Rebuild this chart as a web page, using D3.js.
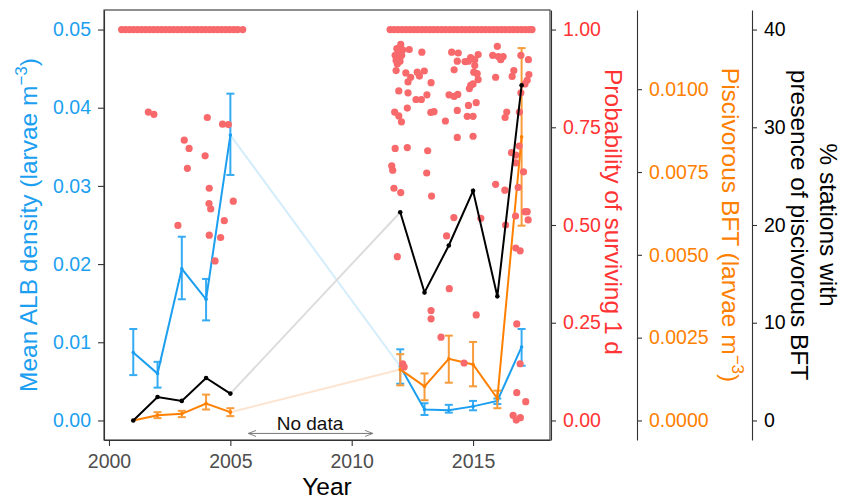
<!DOCTYPE html>
<html>
<head>
<meta charset="utf-8">
<script src="https://cdn.jsdelivr.net/npm/d3@7"></script>
<style>
  body { margin: 0; background: #fff; }
  text { font-family: "Liberation Sans", Arial, sans-serif; }
</style>
</head>
<body>
<script>
// survey years and the three yearly series
var years = [2001, 2002, 2003, 2004, 2005, 2012, 2013, 2014, 2015, 2016, 2017];

var albMean = [0.0087, 0.0060, 0.0194, 0.0155, 0.0365, 0.0069, 0.0014, 0.0013, 0.0018, 0.0025, 0.0094];
var albLow  = [0.0058, 0.0042, 0.0155, 0.0128, 0.0314, 0.0047, 0.0007, 0.0010, 0.0013, 0.0021, 0.0070];
var albHigh = [0.0117, 0.0075, 0.0235, 0.0181, 0.0418, 0.0091, 0.0022, 0.0020, 0.0025, 0.0028, 0.0117];

var bftMean = [0.0000, 0.00016, 0.00020, 0.00051, 0.00025, 0.00154, 0.00103, 0.00186, 0.00169, 0.00066, 0.00856];
var bftLow  = [0.0000, 0.00007, 0.00010, 0.00033, 0.00013, 0.00106, 0.00061, 0.00114, 0.00103, 0.00037, 0.00588];
var bftHigh = [0.0000, 0.00025, 0.00029, 0.00078, 0.00037, 0.00200, 0.00142, 0.00256, 0.00237, 0.00090, 0.01124];

var pctStations = [0, 2.4, 2.0, 4.35, 2.75, 21.3, 13.1, 17.9, 23.5, 12.7, 34.3];

// individual larvae: probability of surviving 1 d (jittered year)
var topRowYears = [2000.52, 2000.68, 2000.85, 2001.01, 2001.18, 2001.34, 2001.51, 2001.67, 2001.84, 2002.00,
    2002.17, 2002.33, 2002.50, 2002.66, 2002.83, 2002.99, 2003.16, 2003.32, 2003.49, 2003.65,
    2003.82, 2003.98, 2004.15, 2004.31, 2004.48, 2004.64, 2004.81, 2004.97, 2005.14, 2005.30, 2005.51,
    2011.58, 2011.74, 2011.90, 2012.07, 2012.23, 2012.40, 2012.56, 2012.72, 2012.89, 2013.05,
    2013.22, 2013.38, 2013.54, 2013.71, 2013.87, 2014.04, 2014.20, 2014.36, 2014.53, 2014.69,
    2014.86, 2015.02, 2015.18, 2015.35, 2015.51, 2015.68, 2015.84, 2016.00, 2016.17, 2016.33,
    2016.50, 2016.66, 2016.82, 2016.99, 2017.15, 2017.31, 2017.43];

var survYears = [2001.62, 2001.85, 2004.05, 2004.68, 2004.92, 2003.10, 2003.30, 2003.96, 2003.23, 2004.13,
    2005.12, 2004.12, 2004.19, 2004.75, 2002.84, 2004.13, 2004.60, 2004.37,
    2012.02, 2011.86, 2012.10, 2012.37, 2011.79, 2011.92, 2012.06, 2011.83, 2011.99, 2011.88,
    2011.83, 2012.89, 2014.12, 2014.39, 2014.35, 2014.67, 2014.81, 2014.22, 2012.23, 2012.43,
    2012.32, 2012.70, 2012.79, 2012.99, 2013.27, 2011.94, 2012.32, 2012.65, 2012.87, 2013.10,
    2014.01, 2014.22, 2014.37, 2014.85, 2011.77, 2011.94, 2012.05, 2012.29, 2013.26, 2013.39,
    2014.35, 2014.81, 2014.76, 2013.86, 2014.35,
    2016.00, 2014.90, 2015.21, 2015.07, 2015.81, 2016.04, 2016.24, 2016.14, 2016.97, 2017.28,
    2015.07, 2015.03, 2015.17, 2015.21, 2015.93, 2016.68, 2016.61, 2017.30, 2017.23, 2017.14,
    2014.90, 2015.00, 2015.13, 2015.00, 2016.39, 2016.32, 2016.91, 2016.97, 2015.00,
    2011.79, 2012.29, 2013.13, 2011.65, 2011.69, 2013.09, 2011.74, 2012.02, 2013.29, 2014.21,
    2013.91, 2011.88,
    2016.58, 2016.76, 2016.76, 2016.90, 2017.08, 2015.93, 2016.31, 2016.86, 2015.32, 2016.34,
    2016.75, 2017.14, 2017.23, 2017.27, 2016.76, 2016.94,
    2014.02, 2013.27, 2013.27, 2015.13, 2013.68, 2014.63, 2012.10, 2012.16, 2016.80, 2016.94,
    2016.80, 2017.17, 2016.65, 2016.78, 2016.95];

var survProbs = [0.789, 0.783, 0.775, 0.758, 0.757, 0.717, 0.696, 0.677, 0.645, 0.594,
    0.561, 0.555, 0.541, 0.511, 0.499, 0.474, 0.468, 0.408,
    0.962, 0.951, 0.948, 0.949, 0.934, 0.936, 0.934, 0.921, 0.919, 0.912,
    0.895, 0.942, 0.942, 0.940, 0.919, 0.918, 0.919, 0.897, 0.889, 0.878,
    0.866, 0.891, 0.881, 0.894, 0.864, 0.843, 0.838, 0.821, 0.821, 0.833,
    0.833, 0.829, 0.834, 0.849, 0.789, 0.779, 0.764, 0.799, 0.788, 0.790,
    0.793, 0.806, 0.778, 0.766, 0.724,
    0.957, 0.928, 0.936, 0.923, 0.934, 0.931, 0.931, 0.923, 0.934, 0.923,
    0.908, 0.891, 0.887, 0.872, 0.878, 0.895, 0.880, 0.885, 0.870, 0.861,
    0.857, 0.861, 0.813, 0.778, 0.789, 0.775, 0.789, 0.838, 0.727,
    0.696, 0.698, 0.690, 0.651, 0.640, 0.633, 0.594, 0.583, 0.574, 0.519,
    0.472, 0.419,
    0.685, 0.679, 0.659, 0.702, 0.636, 0.604, 0.589, 0.596, 0.517, 0.500,
    0.523, 0.534, 0.534, 0.513, 0.441, 0.434,
    0.337, 0.281, 0.260, 0.270, 0.213, 0.147, 0.145, 0.137, 0.247, 0.145,
    0.071, 0.048, 0.013, 0.001, 0.007];

var xTicks = [2000, 2005, 2010, 2015];
var albTicks = [0, 0.01, 0.02, 0.03, 0.04, 0.05];
var probTicks = [0, 0.25, 0.5, 0.75, 1];
var bftTicks = [0, 0.0025, 0.005, 0.0075, 0.01];
var pctTicks = [0, 10, 20, 30, 40];

var BLUE = "#1C9FF0", RED = "#FF3333", ORANGE = "#FF8000", DOT = "#F8696B";

var svg = d3.select("body").append("svg")
    .attr("width", 841).attr("height", 501);

var pLeft = 104, pRight = 550, pTop = 10, pBottom = 440;

var xs = d3.scaleLinear().domain([1999.794, 2018.17]).range([pLeft, pRight]);
var yAlb = d3.scaleLinear().domain([-0.0025, 0.0525]).range([pBottom, pTop]);
var yProb = d3.scaleLinear().domain([-0.05, 1.05]).range([pBottom, pTop]);
var yBft = d3.scaleLinear().domain([-0.00059, 0.01239]).range([pBottom, pTop]);
var yPct = d3.scaleLinear().domain([-2, 42]).range([pBottom, pTop]);

var rows = years.map(function(y, i) {
    return {year: y, alb: albMean[i], albLo: albLow[i], albHi: albHigh[i],
            bft: bftMean[i], bftLo: bftLow[i], bftHi: bftHigh[i], pct: pctStations[i]};
});
var early = rows.filter(function(d) { return d.year <= 2005; });
var late = rows.filter(function(d) { return d.year >= 2012; });
var gap = rows.filter(function(d) { return d.year == 2005 || d.year == 2012; });

// panel border
svg.append("rect")
    .attr("x", pLeft).attr("y", pTop)
    .attr("width", pRight - pLeft).attr("height", pBottom - pTop)
    .attr("fill", "none").attr("stroke", "#333").attr("stroke-width", 1.1);

function drawLine(data, key, yscale, color, width) {
    svg.append("path")
        .datum(data)
        .attr("fill", "none")
        .attr("stroke", color)
        .attr("stroke-width", width)
        .attr("d", d3.line()
            .x(function(d) { return xs(d.year); })
            .y(function(d) { return yscale(d[key]); }));
}

function drawErrors(lo, hi, yscale, color) {
    var g = svg.append("g").attr("stroke", color).attr("stroke-width", 2).attr("fill", "none");
    rows.forEach(function(d) {
        if (d[hi] == d[lo]) return;
        var cx = xs(d.year);
        g.append("line").attr("x1", cx).attr("x2", cx).attr("y1", yscale(d[lo])).attr("y2", yscale(d[hi]));
        g.append("line").attr("x1", cx - 4).attr("x2", cx + 4).attr("y1", yscale(d[lo])).attr("y2", yscale(d[lo]));
        g.append("line").attr("x1", cx - 4).attr("x2", cx + 4).attr("y1", yscale(d[hi])).attr("y2", yscale(d[hi]));
    });
}

function drawDots(key, yscale, color, r) {
    svg.append("g").selectAll("circle")
        .data(rows).enter()
        .append("circle")
        .attr("cx", function(d) { return xs(d.year); })
        .attr("cy", function(d) { return yscale(d[key]); })
        .attr("r", r)
        .attr("fill", color);
}

// faded links across the years without data
drawLine(gap, "alb", yAlb, "#D4EDFB", 2);
drawLine(gap, "pct", yPct, "#DCDCDC", 2);
drawLine(gap, "bft", yBft, "#FDE4D0", 2);

// ALB density
drawErrors("albLo", "albHi", yAlb, "#35ABF3");
drawLine(early, "alb", yAlb, BLUE, 2);
drawLine(late, "alb", yAlb, BLUE, 2);
drawDots("alb", yAlb, BLUE, 1.8);

// piscivorous BFT density
drawErrors("bftLo", "bftHi", yBft, "#F89B3A");
drawLine(early, "bft", yBft, ORANGE, 2);
drawLine(late, "bft", yBft, ORANGE, 2);
drawDots("bft", yBft, ORANGE, 1.8);

// survival probability of individual larvae
var surv = topRowYears.map(function(y) { return {year: y, p: 1}; })
    .concat(survYears.map(function(y, i) { return {year: y, p: survProbs[i]}; }));
svg.append("g").selectAll("circle")
    .data(surv).enter()
    .append("circle")
    .attr("cx", function(d) { return xs(d.year); })
    .attr("cy", function(d) { return yProb(d.p); })
    .attr("r", 3.6)
    .attr("fill", DOT);

// % stations with piscivorous BFT
drawLine(early, "pct", yPct, "#000", 2);
drawLine(late, "pct", yPct, "#000", 2);
drawDots("pct", yPct, "#000", 2.3);

// "No data" annotation
svg.append("defs").append("marker")
    .attr("id", "head").attr("viewBox", "0 0 10 10")
    .attr("refX", 9).attr("refY", 5)
    .attr("markerWidth", 9).attr("markerHeight", 9)
    .attr("markerUnits", "userSpaceOnUse")
    .attr("orient", "auto-start-reverse")
    .append("path").attr("d", "M0,1.5 L9,5 L0,8.5")
    .attr("fill", "none").attr("stroke", "#777").attr("stroke-width", 1);
svg.append("line")
    .attr("x1", xs(2005.74)).attr("x2", xs(2010.87))
    .attr("y1", yAlb(-0.00166)).attr("y2", yAlb(-0.00166))
    .attr("stroke", "#777").attr("stroke-width", 1)
    .attr("marker-start", "url(#head)").attr("marker-end", "url(#head)");
svg.append("text")
    .attr("x", xs(2008.28)).attr("y", yAlb(-0.00124))
    .attr("text-anchor", "middle")
    .style("font-size", "19px").attr("fill", "#111")
    .text("No data");

// axes
function styleAxis(g, color) {
    g.selectAll(".tick line").attr("stroke", "#333").attr("stroke-width", 1.1);
    g.selectAll(".domain").attr("stroke", "#333").attr("stroke-width", 1.1);
    g.selectAll("text").attr("fill", color)
        .style("font-size", "19.5px")
        .style("font-family", "'Liberation Sans', Arial, sans-serif");
}

var gx = svg.append("g").attr("transform", "translate(0," + pBottom + ")")
    .call(d3.axisBottom(xs).tickValues(xTicks).tickFormat(d3.format("d"))
        .tickSize(6).tickSizeOuter(0).tickPadding(8));
styleAxis(gx, "#4D4D4D");

var gl = svg.append("g").attr("transform", "translate(" + pLeft + ",0)")
    .call(d3.axisLeft(yAlb).tickValues(albTicks).tickFormat(d3.format(".2f"))
        .tickSize(6).tickSizeOuter(0).tickPadding(7));
styleAxis(gl, BLUE);

var gp = svg.append("g").attr("transform", "translate(551,0)")
    .call(d3.axisRight(yProb).tickValues(probTicks).tickFormat(d3.format(".2f"))
        .tickSize(5).tickSizeOuter(0).tickPadding(7));
styleAxis(gp, RED);

var gb = svg.append("g").attr("transform", "translate(637,0)")
    .call(d3.axisRight(yBft).tickValues(bftTicks).tickFormat(d3.format(".4f"))
        .tickSize(5).tickSizeOuter(0).tickPadding(7));
styleAxis(gb, ORANGE);

var gs = svg.append("g").attr("transform", "translate(752,0)")
    .call(d3.axisRight(yPct).tickValues(pctTicks).tickFormat(d3.format("d"))
        .tickSize(5).tickSizeOuter(0).tickPadding(7));
styleAxis(gs, "#000");

// axis titles
var mid = (pTop + pBottom) / 2;

svg.append("text")
    .attr("x", (pLeft + pRight) / 2).attr("y", 495)
    .attr("text-anchor", "middle").style("font-size", "24.5px")
    .text("Year");

var tl = svg.append("text")
    .attr("transform", "translate(37," + mid + ") rotate(-90)")
    .attr("text-anchor", "middle").style("font-size", "24.5px")
    .attr("fill", BLUE);
tl.append("tspan").text("Mean ALB density (larvae m");
tl.append("tspan").attr("dy", -10).style("font-size", "17px").text("\u22123");
tl.append("tspan").attr("dy", 10).text(")");

svg.append("text")
    .attr("transform", "translate(605," + (mid - 13) + ") rotate(90)")
    .attr("text-anchor", "middle").style("font-size", "24.5px")
    .attr("fill", RED)
    .text("Probability of surviving 1 d");

var tb = svg.append("text")
    .attr("transform", "translate(722," + mid + ") rotate(90)")
    .attr("text-anchor", "middle").style("font-size", "24.5px")
    .attr("fill", ORANGE);
tb.append("tspan").text("Piscivorous BFT (larvae m");
tb.append("tspan").attr("dy", -10).style("font-size", "17px").text("\u22123");
tb.append("tspan").attr("dy", 10).text(")");

svg.append("text")
    .attr("transform", "translate(820," + mid + ") rotate(90)")
    .attr("text-anchor", "middle").style("font-size", "24.5px")
    .text("% stations with");
svg.append("text")
    .attr("transform", "translate(791," + mid + ") rotate(90)")
    .attr("text-anchor", "middle").style("font-size", "24.5px")
    .text("presence of piscivorous BFT");
</script>
</body>
</html>
